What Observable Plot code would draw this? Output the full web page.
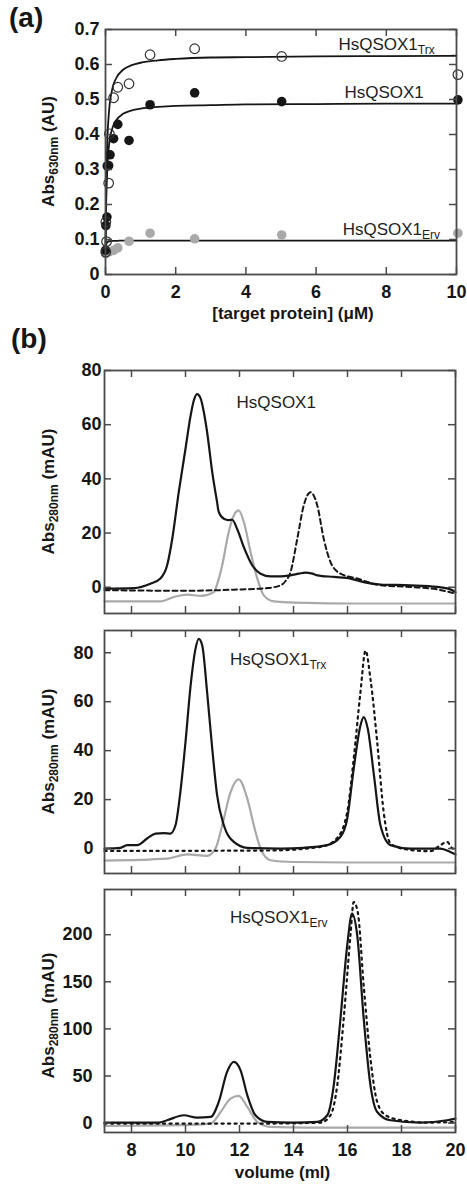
<!DOCTYPE html>
<html><head><meta charset="utf-8">
<script src="https://cdn.jsdelivr.net/npm/d3@7"></script>
<script src="https://cdn.jsdelivr.net/npm/@observablehq/plot@0.6"></script>
<style>
html,body{margin:0;padding:0;background:#fff;}
#wrap{position:relative;width:467px;height:1185px;overflow:hidden;background:#fff;}
#wrap > svg{position:absolute;left:0;}
</style></head><body><div id="wrap"></div>
<script>
// ---------- Panel (a): binding assay ----------
const concTrx = [0.01, 0.03, 0.01, 0.09, 0.11, 0.23, 0.35, 0.67, 1.27, 2.54, 5.02, 10.04];
const absTrx  = [0.064, 0.094, 0.15, 0.261, 0.402, 0.505, 0.535, 0.545, 0.628, 0.645, 0.623, 0.571];
const concWT  = [0.0, 0.01, 0.04, 0.05, 0.09, 0.13, 0.23, 0.35, 0.67, 1.27, 2.54, 5.02, 10.04];
const absWT   = [0.069, 0.14, 0.164, 0.31, 0.311, 0.342, 0.388, 0.429, 0.383, 0.485, 0.519, 0.494, 0.499];
const concErv = [0.0, 0.1, 0.23, 0.35, 0.67, 1.27, 2.54, 5.02, 10.04];
const absErv  = [0.06, 0.065, 0.069, 0.076, 0.095, 0.118, 0.102, 0.113, 0.118];
const fitConc = [0, 0.02, 0.05, 0.1, 0.2, 0.3, 0.5, 0.75, 1, 1.5, 2, 3, 4, 6, 8, 10];
const fitTrx  = [0.06, 0.249, 0.375, 0.465, 0.533, 0.56, 0.585, 0.598, 0.605, 0.612, 0.616, 0.62, 0.621, 0.623, 0.624, 0.625];
const fitWT   = [0.065, 0.207, 0.301, 0.369, 0.419, 0.44, 0.459, 0.469, 0.474, 0.479, 0.482, 0.484, 0.486, 0.487, 0.488, 0.488];
const fitErv  = [0.06, 0.085, 0.093, 0.095, 0.096, 0.096, 0.097, 0.097, 0.097, 0.097, 0.097, 0.097, 0.097, 0.097, 0.097, 0.097];
const aXTicks = [0, 2, 4, 6, 8, 10];
const aYTicks = [0, 0.1, 0.2, 0.3, 0.4, 0.5, 0.6, 0.7];

// ---------- Panel (b): gel filtration ----------
const volTicks = [8, 10, 12, 14, 16, 18, 20];
// HsQSOX1
const b1FullVol = [7.0, 8.1, 8.7, 9.07, 9.32, 9.51, 9.75, 10.0, 10.19, 10.31, 10.43, 10.56, 10.68, 10.8, 10.99, 11.17, 11.23, 11.42, 11.6, 11.73, 11.91, 12.16, 12.47, 12.78, 13.15, 13.52, 13.89, 14.2, 14.44, 14.7, 14.88, 15.5, 16.11, 16.6, 17.22, 18.33, 19.32, 19.81, 20.0];
const b1FullAbs = [-0.5, -0.3, 1.3, 3.2, 8.1, 17.9, 35.1, 51.1, 63.4, 69, 71.3, 69.7, 64.6, 57.3, 42.5, 31.4, 27.8, 25.3, 24.8, 24.9, 21.6, 14.8, 8.1, 5.0, 4.0, 4.0, 4.4, 5.0, 5.4, 5.0, 4.4, 3.8, 3.2, 1.9, 1.0, 0.7, 0.1, -0.8, -1.8];
const b1MixVol  = [7.0, 9.07, 9.57, 10.06, 10.56, 11.05, 11.2, 11.36, 11.6, 11.79, 11.97, 12.16, 12.41, 12.66, 12.9, 13.27, 14.5, 16, 18, 20];
const b1MixAbs  = [-5.2, -5.2, -3.6, -2.7, -3.2, -1.8, 2, 8.1, 20.4, 26.5, 28.4, 24.1, 13, 3.2, -3, -5.2, -5.8, -6, -6, -6];
const b1DashVol = [7.0, 9.94, 11.79, 13.03, 13.52, 13.7, 13.89, 14.14, 14.38, 14.63, 14.88, 15.12, 15.37, 15.74, 16.36, 17.22, 18.33, 19.32, 20.0];
const b1DashAbs = [-1.1, -1.3, -0.9, -0.3, 0.7, 2.2, 5.6, 17.9, 30.2, 35.1, 30.2, 17.9, 9.3, 5.0, 3.2, 0.7, 0.1, -0.8, -2.4];
// HsQSOX1 Trx
const b2FullVol = [7.0, 7.59, 7.84, 8.21, 8.58, 8.89, 9.2, 9.44, 9.63, 9.81, 10.0, 10.19, 10.37, 10.49, 10.62, 10.8, 10.99, 11.17, 11.42, 11.79, 12.29, 13.52, 14.38, 15.25, 15.74, 15.99, 16.23, 16.48, 16.6, 16.75, 16.98, 17.22, 17.59, 18.33, 19.44, 19.81, 20.0];
const b2FullAbs = [0, 0.3, 1.4, 1.4, 4.1, 6.1, 6.3, 6.1, 9.5, 23.1, 43.5, 66.7, 81.6, 85.7, 83, 63.9, 40.8, 21.8, 9.5, 2.7, 0.3, 0, 0.3, 1.4, 4.8, 12.2, 32.6, 50.3, 53.7, 49, 29.9, 9.5, 1.4, 0, 0, -1.4, -2.4];
const b2MixVol  = [7.0, 9.32, 10.06, 10.8, 11.11, 11.36, 11.67, 11.97, 12.29, 12.53, 12.78, 13.15, 14, 16, 18, 20];
const b2MixAbs  = [-4.9, -4.1, -2.4, -3.0, 0, 9.5, 23.1, 28.3, 20.4, 9.5, 0, -4.8, -5.5, -5.7, -5.7, -5.7];
const b2DotVol  = [7.0, 13.15, 15.0, 15.6, 15.99, 16.23, 16.48, 16.67, 16.85, 17.1, 17.34, 17.59, 18.1, 19.07, 19.44, 19.69, 19.9, 20.0];
const b2DotAbs  = [-1.0, -0.8, 0.7, 4.1, 14.9, 36.7, 63.9, 80.9, 69.4, 43.5, 14.9, 2.1, -0.2, -1.1, 1.4, 2.7, 0, 0];
// HsQSOX1 Erv
const b3FullVol = [7.0, 9.0, 9.32, 9.94, 10.43, 10.93, 11.23, 11.54, 11.79, 12.04, 12.29, 12.59, 13.03, 14.0, 14.88, 15.25, 15.49, 15.74, 15.99, 16.17, 16.36, 16.6, 16.85, 17.1, 17.59, 18.7, 19.69, 20.0];
const b3FullAbs = [0.5, 0.5, 3, 8.3, 5.8, 6.5, 22.4, 54.3, 64.9, 56, 29.5, 8.3, 1.2, 0.5, 1.2, 8.3, 40.1, 111, 188.7, 222.4, 199.4, 111, 40.1, 11.8, 3, 0.5, 3, 4.8];
const b3MixVol  = [7.0, 9.32, 10.93, 11.3, 11.67, 11.97, 12.29, 12.66, 13.15, 14.5, 20.0];
const b3MixAbs  = [-3.1, -2.5, -0.5, 11.8, 26, 28.8, 17.1, 1.2, -4.1, -4.8, -4.8];
const b3DotVol  = [7.0, 13.0, 15.0, 15.37, 15.62, 15.86, 16.11, 16.23, 16.38, 16.6, 16.85, 17.1, 17.41, 18.0, 19.0, 20.0];
const b3DotAbs  = [-0.5, -0.5, 0.5, 8.3, 40.1, 111, 199.4, 234.7, 224, 146, 68.5, 22.4, 8.3, 3, 0.5, 1.2];

// ---------- drawing ----------
const FONT = '"Liberation Sans", Arial, Helvetica, sans-serif';
const W = 467, FRAME = "#4a4a4a", INK = "#161616", GRAY = "#a9a9a9";
const rows = (xs, ys) => xs.map((x, i) => ({x, y: ys[i]}));
const wrap = document.getElementById("wrap");

function panel({top, height, mt, mb, ml, mr, xDomain, yDomain, xTicks, yTicks, yFmt, yPad, showX, marks}) {
  const iw = W - ml - mr, ih = height - mt - mb, tk = 7;
  const all = [
    ...marks,
    Plot.tickX(xTicks, {x: d => d, insetTop: ih - tk, stroke: FRAME, strokeWidth: 1.5}),
    Plot.tickX(xTicks, {x: d => d, insetBottom: ih - tk, stroke: FRAME, strokeWidth: 1.5}),
    Plot.tickY(yTicks, {y: d => d, insetRight: iw - tk, stroke: FRAME, strokeWidth: 1.5}),
    Plot.tickY(yTicks, {y: d => d, insetLeft: iw - tk, stroke: FRAME, strokeWidth: 1.5}),
    Plot.frame({stroke: FRAME, strokeWidth: 1.8}),
    Plot.axisY(yTicks, {tickSize: 0, tickPadding: yPad, tickFormat: yFmt, label: null, fontSize: 18, fontWeight: "bold", fill: INK})
  ];
  if (showX) all.push(Plot.axisX(xTicks, {tickSize: 0, tickPadding: 11, label: null, fontSize: 18, fontWeight: "bold", fill: INK}));
  const svg = Plot.plot({
    width: W, height, marginTop: mt, marginBottom: mb, marginLeft: ml, marginRight: mr,
    x: {domain: xDomain, axis: null},
    y: {domain: yDomain, axis: null},
    style: {fontFamily: FONT, fontSize: "18px", color: INK, background: "transparent", overflow: "visible"},
    marks: all
  });
  svg.style.top = top + "px";
  wrap.appendChild(svg);
  return svg;
}

function rich(svg, x, y, parts, {size = 17, weight = "bold", anchor = "start", rotate = false, sub = 12, shift = 4, fill = INK} = {}) {
  const t = d3.select(svg).append("text")
    .attr("font-family", FONT).attr("font-size", size).attr("font-weight", weight)
    .attr("fill", fill).attr("text-anchor", anchor);
  if (rotate) t.attr("transform", `translate(${x},${y}) rotate(-90)`);
  else t.attr("x", x).attr("y", y);
  let low = false;
  for (const [s, isSub] of parts) {
    const ts = t.append("tspan").text(s);
    if (isSub) { ts.attr("font-size", sub); if (!low) ts.attr("dy", shift); low = true; }
    else if (low) { ts.attr("dy", -shift); low = false; }
  }
}

function label(svg, xv, yv, parts) {
  const sx = svg.scale("x"), sy = svg.scale("y");
  rich(svg, sx.apply(xv), sy.apply(yv), parts, {weight: "normal", fill: "#1e1e1e"});
}

// Panel (a)
const svgA = panel({
  top: 0, height: 325, mt: 29, mb: 51, ml: 105, mr: 11,
  xDomain: [0, 10], yDomain: [0, 0.7], xTicks: aXTicks, yTicks: aYTicks,
  yFmt: d => String(+d.toFixed(1)), yPad: 6, showX: true,
  marks: [
    Plot.line(rows(fitConc, fitErv), {x: "x", y: "y", stroke: INK, strokeWidth: 1.8, curve: "monotone-x"}),
    Plot.line(rows(fitConc, fitWT), {x: "x", y: "y", stroke: INK, strokeWidth: 1.8, curve: "monotone-x"}),
    Plot.line(rows(fitConc, fitTrx), {x: "x", y: "y", stroke: INK, strokeWidth: 1.8, curve: "monotone-x"}),
    Plot.dot(rows(concErv, absErv), {x: "x", y: "y", r: 4.8, fill: GRAY, stroke: "none"}),
    Plot.dot(rows(concWT, absWT), {x: "x", y: "y", r: 4.8, fill: INK, stroke: "none"}),
    Plot.dot(rows(concTrx, absTrx), {x: "x", y: "y", r: 4.8, fill: "none", stroke: "#333", strokeWidth: 1.2})
  ]
});
label(svgA, 6.65, 0.64, [["HsQSOX1", false], ["Trx", true]]);
label(svgA, 6.82, 0.502, [["HsQSOX1", false]]);
label(svgA, 6.77, 0.111, [["HsQSOX1", false], ["Erv", true]]);
rich(svgA, 54, 151.5, [["Abs", false], ["630nm", true], [" (AU)", false]], {rotate: true, anchor: "middle"});
rich(svgA, 293, 319, [["[target protein] (μM)", false]], {anchor: "middle"});
rich(svgA, 9, 27, [["(a)", false]], {size: 28});

const bLine = (v, a, o) => Plot.line(rows(v, a), {x: "x", y: "y", strokeWidth: 2.2, curve: "monotone-x", ...o});

// Panel (b) top
const svgB1 = panel({
  top: 325, height: 295, mt: 45, mb: 7, ml: 104, mr: 12,
  xDomain: [7, 20], yDomain: [-9.7, 80], xTicks: volTicks, yTicks: [0, 20, 40, 60, 80],
  yFmt: d => String(d), yPad: 3, showX: false,
  marks: [
    bLine(b1MixVol, b1MixAbs, {stroke: GRAY}),
    bLine(b1DashVol, b1DashAbs, {stroke: INK, strokeWidth: 2, strokeDasharray: "5,3.5"}),
    bLine(b1FullVol, b1FullAbs, {stroke: INK})
  ]
});
label(svgB1, 11.91, 65.9, [["HsQSOX1", false]]);
rich(svgB1, 54, 166.5, [["Abs", false], ["280nm", true], [" (mAU)", false]], {rotate: true, anchor: "middle"});
rich(svgB1, 11, 22.5, [["(b)", false]], {size: 28});

// Panel (b) middle
const svgB2 = panel({
  top: 620, height: 260, mt: 10, mb: 7, ml: 104, mr: 12,
  xDomain: [7, 20], yDomain: [-10.2, 89.1], xTicks: volTicks, yTicks: [0, 20, 40, 60, 80],
  yFmt: d => String(d), yPad: 11, showX: false,
  marks: [
    bLine(b2MixVol, b2MixAbs, {stroke: GRAY}),
    bLine(b2DotVol, b2DotAbs, {stroke: INK, strokeWidth: 2.2, strokeDasharray: "2.2,4.3"}),
    bLine(b2FullVol, b2FullAbs, {stroke: INK})
  ]
});
label(svgB2, 11.67, 74.8, [["HsQSOX1", false], ["Trx", true]]);
rich(svgB2, 54, 131.5, [["Abs", false], ["280nm", true], [" (mAU)", false]], {rotate: true, anchor: "middle"});

// Panel (b) bottom
const svgB3 = panel({
  top: 880, height: 305, mt: 9, mb: 53, ml: 104, mr: 12,
  xDomain: [7, 20], yDomain: [-10, 248], xTicks: volTicks, yTicks: [0, 50, 100, 150, 200],
  yFmt: d => String(d), yPad: 12, showX: true,
  marks: [
    bLine(b3MixVol, b3MixAbs, {stroke: GRAY}),
    bLine(b3DotVol, b3DotAbs, {stroke: INK, strokeWidth: 2.2, strokeDasharray: "2.2,4.3"}),
    bLine(b3FullVol, b3FullAbs, {stroke: INK})
  ]
});
label(svgB3, 11.67, 211.8, [["HsQSOX1", false], ["Erv", true]]);
rich(svgB3, 54, 135.5, [["Abs", false], ["280nm", true], [" (mAU)", false]], {rotate: true, anchor: "middle"});
rich(svgB3, 282.5, 298, [["volume (ml)", false]], {anchor: "middle"});
</script></body></html>
